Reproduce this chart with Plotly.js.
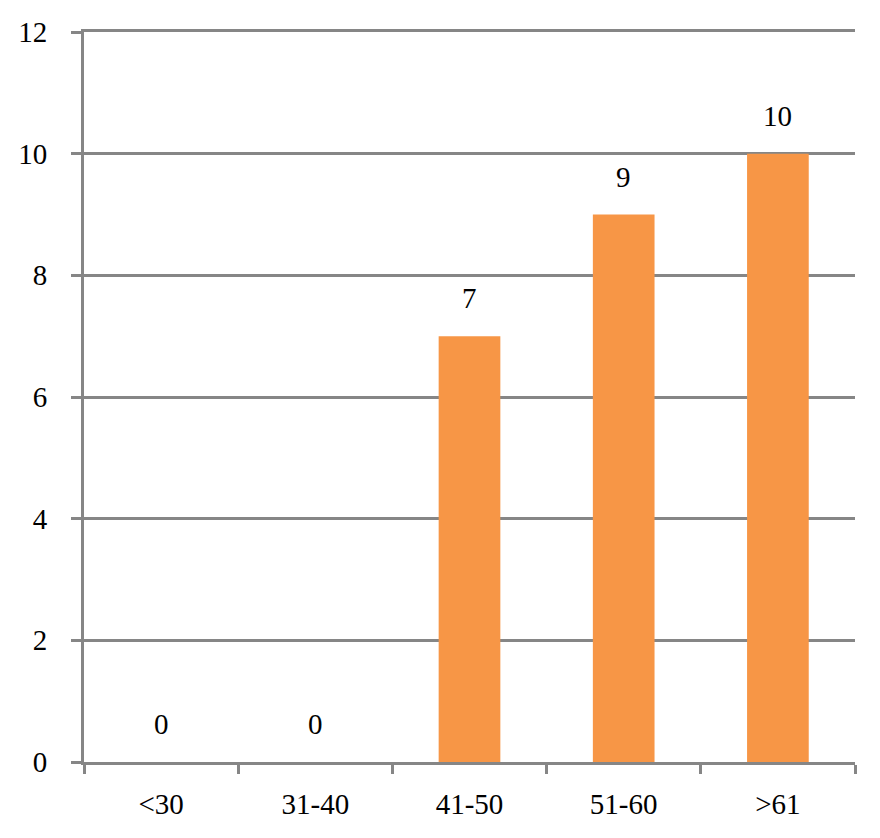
<!DOCTYPE html>
<html><head><meta charset="utf-8">
<script src="https://cdn.plot.ly/plotly-3.0.1.min.js"></script>
<style>body{margin:0;background:#fff}#c{width:880px;height:838px}</style>
</head><body><div id="c"></div>
<script>
const categories = ['<30', '31-40', '41-50', '51-60', '>61'];
const counts = [0, 0, 7, 9, 10];
const yTicks = [0, 2, 4, 6, 8, 10, 12];

const gray = '#868686';
const fontFam = 'Liberation Serif, serif';

const trace = {
  type: 'bar', x: categories, y: counts,
  marker: {color: '#F79646'},
  hoverinfo: 'none'
};

const annotations = categories.map((c, i) => ({
  x: c, y: counts[i], xref: 'x', yref: 'y',
  text: String(counts[i]), showarrow: false,
  yanchor: 'bottom', yshift: 20,
  font: {family: fontFam, size: 29, color: '#000'}
}));

const layout = {
  width: 880, height: 838,
  margin: {l: 84, r: 25, t: 32, b: 76},
  paper_bgcolor: '#fff', plot_bgcolor: '#fff',
  showlegend: false, bargap: 0.6,
  font: {family: fontFam, size: 29, color: '#000'},
  xaxis: {
    type: 'category', showgrid: false, zeroline: false,
    showline: true, linecolor: gray, linewidth: 3, mirror: true,
    ticks: 'outside', tickson: 'boundaries',
    ticklen: 9, tickwidth: 3, tickcolor: gray,
    ticklabelstandoff: 14,
    tickfont: {family: fontFam, size: 29, color: '#000'}
  },
  yaxis: {
    range: [0, 12], tickvals: yTicks, ticktext: yTicks.map(String),
    showgrid: true, gridcolor: gray, gridwidth: 3,
    zeroline: false, showline: true, linecolor: gray, linewidth: 3,
    ticks: 'outside', ticklen: 10, tickwidth: 3, tickcolor: gray,
    ticklabelstandoff: 18,
    tickfont: {family: fontFam, size: 29, color: '#000'}
  },
  annotations: annotations
};

Plotly.newPlot('c', [trace], layout, {displayModeBar: false, staticPlot: true});
</script></body></html>
